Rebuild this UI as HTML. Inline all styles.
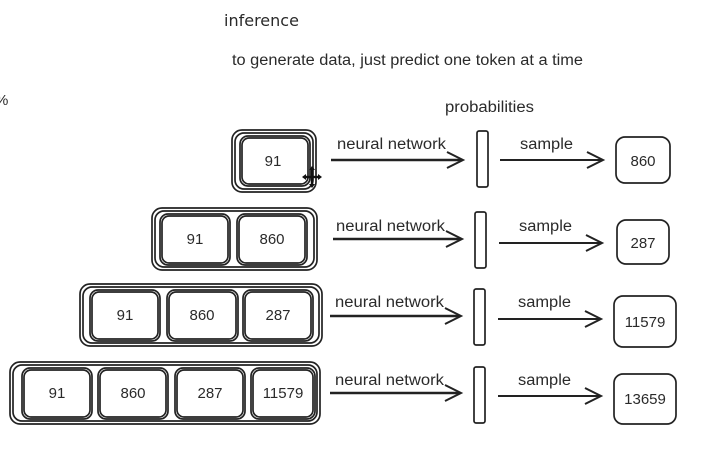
<!DOCTYPE html>
<html><head><meta charset="utf-8"><style>
html,body{margin:0;padding:0;background:#fff;}
svg{display:block;}
text{font-family:"Liberation Sans",sans-serif;fill:#2a2a2a;}
</style></head><body>
<svg width="712" height="454" viewBox="0 0 712 454" xmlns="http://www.w3.org/2000/svg">
<defs>
<g id="ah"><path d="M-16,-8 L0,0 L-16,8" fill="none" stroke="#222" stroke-width="2"/></g>
</defs>
<text x="224" y="26" font-size="16" style="font-family:'DejaVu Sans',sans-serif">inference</text>
<text x="232" y="65" font-size="15.5" textLength="351" lengthAdjust="spacingAndGlyphs">to generate data, just predict one token at a time</text>
<text x="-5" y="105" font-size="15">%</text>
<text x="445" y="112" font-size="15.5" textLength="89" lengthAdjust="spacingAndGlyphs">probabilities</text>

<g fill="none" stroke="#222" stroke-width="1.7">
<rect x="232" y="130" width="84" height="62" rx="10"/><rect x="235" y="133" width="78" height="56" rx="9"/>
<rect x="240" y="136" width="70" height="50" rx="8"/><rect x="242" y="138" width="66" height="46" rx="7"/>
<rect x="152" y="208" width="165" height="62" rx="10"/><rect x="155" y="211" width="159" height="56" rx="9"/>
<rect x="160" y="214" width="70" height="51" rx="8"/><rect x="162" y="216" width="66" height="47" rx="7"/>
<rect x="237" y="214" width="70" height="51" rx="8"/><rect x="239" y="216" width="66" height="47" rx="7"/>
<rect x="80" y="284" width="242" height="62" rx="10"/><rect x="83" y="287" width="236" height="56" rx="9"/>
<rect x="90" y="290" width="70" height="51" rx="8"/><rect x="92" y="292" width="66" height="47" rx="7"/>
<rect x="167" y="290" width="71" height="51" rx="8"/><rect x="169" y="292" width="67" height="47" rx="7"/>
<rect x="243" y="290" width="70" height="51" rx="8"/><rect x="245" y="292" width="66" height="47" rx="7"/>
<rect x="10" y="362" width="310" height="62" rx="10"/><rect x="13" y="365" width="304" height="56" rx="9"/>
<rect x="22" y="368" width="70" height="51" rx="8"/><rect x="24" y="370" width="66" height="47" rx="7"/>
<rect x="98" y="368" width="70" height="51" rx="8"/><rect x="100" y="370" width="66" height="47" rx="7"/>
<rect x="175" y="368" width="70" height="51" rx="8"/><rect x="177" y="370" width="66" height="47" rx="7"/>
<rect x="251" y="368" width="64" height="51" rx="8"/><rect x="253" y="370" width="60" height="47" rx="7"/>
<rect x="477" y="131" width="11" height="56" rx="2"/>
<rect x="475" y="212" width="11" height="56" rx="2"/>
<rect x="474" y="289" width="11" height="56" rx="2"/>
<rect x="474" y="367" width="11" height="56" rx="2"/>
<rect x="616" y="137" width="54" height="46" rx="9"/>
<rect x="617" y="220" width="52" height="44" rx="9"/>
<rect x="614" y="296" width="62" height="51" rx="9"/>
<rect x="614" y="374" width="62" height="50" rx="9"/>
</g>

<g stroke="#222" stroke-width="2.6">
<line x1="331" y1="160" x2="462" y2="160"/>
<line x1="333" y1="239" x2="461" y2="239"/>
<line x1="330" y1="316" x2="460" y2="316"/>
<line x1="330" y1="393" x2="460" y2="393"/>
</g>
<g stroke="#222" stroke-width="2">
<line x1="500" y1="160" x2="602" y2="160"/>
<line x1="499" y1="243" x2="601" y2="243"/>
<line x1="498" y1="319" x2="600" y2="319"/>
<line x1="498" y1="396" x2="600" y2="396"/>
</g>
<use href="#ah" x="463" y="160"/><use href="#ah" x="462" y="239"/>
<use href="#ah" x="461" y="316"/><use href="#ah" x="461" y="393"/>
<use href="#ah" x="603" y="160"/><use href="#ah" x="602" y="243"/>
<use href="#ah" x="601" y="319"/><use href="#ah" x="601" y="396"/>

<g font-size="15.5">
<text x="337" y="149" textLength="109" lengthAdjust="spacingAndGlyphs">neural network</text><text x="520" y="149" textLength="53" lengthAdjust="spacingAndGlyphs">sample</text>
<text x="336" y="231" textLength="109" lengthAdjust="spacingAndGlyphs">neural network</text><text x="519" y="231" textLength="53" lengthAdjust="spacingAndGlyphs">sample</text>
<text x="335" y="307" textLength="109" lengthAdjust="spacingAndGlyphs">neural network</text><text x="518" y="307" textLength="53" lengthAdjust="spacingAndGlyphs">sample</text>
<text x="335" y="385" textLength="109" lengthAdjust="spacingAndGlyphs">neural network</text><text x="518" y="385" textLength="53" lengthAdjust="spacingAndGlyphs">sample</text>
</g>
<g font-size="15" text-anchor="middle">
<text x="273" y="166">91</text>
<text x="195" y="244">91</text><text x="272" y="244">860</text>
<text x="125" y="320">91</text><text x="202" y="320">860</text><text x="278" y="320">287</text>
<text x="57" y="398">91</text><text x="133" y="398">860</text><text x="210" y="398">287</text><text x="283" y="398">11579</text>
<text x="643" y="166">860</text><text x="643" y="248">287</text>
<text x="645" y="327">11579</text><text x="645" y="404">13659</text>
</g>
<g stroke="#111" stroke-width="2.4">
<line x1="304" y1="177" x2="320" y2="177"/><line x1="312" y1="168" x2="312" y2="186"/>
</g>
<path d="M312,166 l-3,4 h6z M312,188 l-3,-4 h6z M302,177 l4,-3 v6z M322,177 l-4,-3 v6z" fill="#111"/>
</svg>
</body></html>
